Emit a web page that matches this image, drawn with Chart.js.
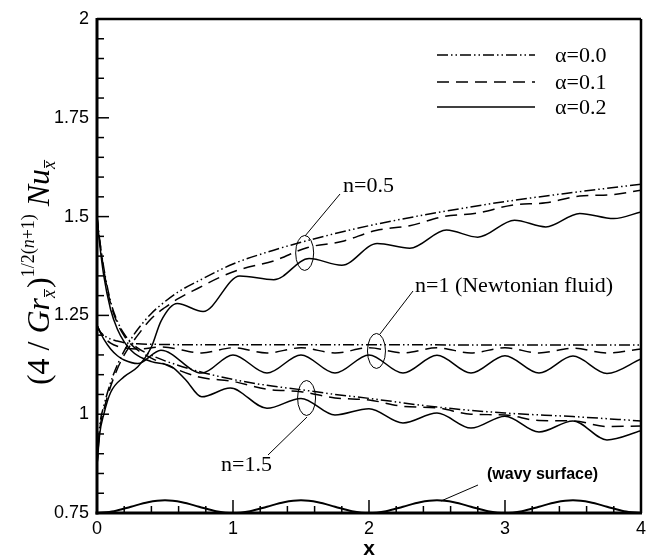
<!DOCTYPE html>
<html>
<head>
<meta charset="utf-8">
<script src="https://cdn.jsdelivr.net/npm/chart.js@4.4.0/dist/chart.umd.min.js"></script>
<style>
  html, body { margin: 0; padding: 0; background: #fff; }
  canvas { display: block; }
</style>
</head>
<body>
<canvas id="nuChart" width="651" height="558"></canvas>
<script>
// local Nusselt number, one x/y pair per curve
// n = 0.5
var n05a0X = [0, 0.02, 0.05, 0.1, 0.15, 0.2, 0.25, 0.3, 0.4, 0.5, 0.6, 0.75, 1, 1.25, 1.5, 1.75, 2, 2.5, 3, 3.5, 4];
var n05a0Y = [0.87, 0.97, 1.02, 1.08, 1.125, 1.16, 1.19, 1.215, 1.255, 1.285, 1.31, 1.338, 1.38, 1.41, 1.435, 1.457, 1.477, 1.51, 1.538, 1.561, 1.582];
var n05a1X = [0, 0.02, 0.05, 0.1, 0.15, 0.2, 0.3, 0.4, 0.5, 0.6, 0.75, 0.9, 1.05, 1.3, 1.55, 1.8, 2.05, 2.3, 2.55, 2.8, 3.05, 3.3, 3.55, 3.8, 4];
var n05a1Y = [0.87, 0.96, 1.01, 1.07, 1.115, 1.15, 1.2, 1.242, 1.27, 1.293, 1.32, 1.346, 1.366, 1.388, 1.422, 1.437, 1.465, 1.477, 1.5, 1.509, 1.529, 1.535, 1.552, 1.556, 1.567];
var n05a2X = [0, 0.02, 0.05, 0.1, 0.2, 0.3, 0.4, 0.47, 0.59, 0.78, 1.05, 1.3, 1.56, 1.8, 2.06, 2.3, 2.57, 2.8, 3.07, 3.3, 3.55, 3.8, 4];
var n05a2Y = [0.87, 0.95, 1.0, 1.055, 1.095, 1.12, 1.17, 1.235, 1.28, 1.26, 1.35, 1.34, 1.394, 1.377, 1.432, 1.42, 1.466, 1.448, 1.491, 1.474, 1.508, 1.495, 1.512];
// n = 1 (Newtonian)
var n1a0X = [0, 0.02, 0.05, 0.1, 0.15, 0.2, 0.3, 0.4, 0.6, 1, 2, 3, 4];
var n1a0Y = [1.225, 1.21, 1.2, 1.19, 1.185, 1.181, 1.178, 1.177, 1.176, 1.176, 1.176, 1.175, 1.175];
var n1a1X = [0, 0.02, 0.05, 0.1, 0.15, 0.2, 0.3, 0.48, 0.77, 1, 1.25, 1.5, 1.75, 2, 2.25, 2.5, 2.75, 3, 3.25, 3.5, 3.75, 4];
var n1a1Y = [1.225, 1.21, 1.195, 1.18, 1.172, 1.168, 1.165, 1.17, 1.155, 1.168, 1.155, 1.168, 1.155, 1.168, 1.155, 1.168, 1.155, 1.168, 1.155, 1.167, 1.155, 1.165];
var n1a2X = [0, 0.02, 0.05, 0.1, 0.15, 0.2, 0.3, 0.47, 0.77, 1, 1.25, 1.5, 1.75, 2, 2.25, 2.5, 2.75, 3, 3.25, 3.5, 3.75, 4];
var n1a2Y = [1.225, 1.21, 1.19, 1.165, 1.148, 1.137, 1.128, 1.162, 1.104, 1.15, 1.104, 1.15, 1.104, 1.15, 1.104, 1.149, 1.104, 1.148, 1.104, 1.147, 1.103, 1.14];
// n = 1.5
var n15a0X = [0, 0.02, 0.05, 0.1, 0.15, 0.2, 0.25, 0.3, 0.4, 0.5, 0.75, 1, 1.25, 1.5, 1.75, 2, 2.5, 3, 3.5, 4];
var n15a0Y = [1.5, 1.44, 1.37, 1.285, 1.235, 1.203, 1.182, 1.167, 1.149, 1.135, 1.108, 1.088, 1.073, 1.062, 1.05, 1.04, 1.018, 1.003, 0.994, 0.983];
var n15a1X = [0, 0.02, 0.05, 0.1, 0.15, 0.2, 0.25, 0.3, 0.4, 0.5, 0.75, 1, 1.25, 1.5, 1.75, 2, 2.25, 2.5, 2.75, 3, 3.25, 3.5, 3.75, 4];
var n15a1Y = [1.5, 1.44, 1.365, 1.28, 1.23, 1.198, 1.177, 1.162, 1.142, 1.126, 1.094, 1.083, 1.063, 1.057, 1.041, 1.036, 1.02, 1.016, 1.0, 0.998, 0.984, 0.983, 0.969, 0.97];
var n15a2X = [0, 0.02, 0.05, 0.1, 0.15, 0.2, 0.25, 0.3, 0.4, 0.55, 0.65, 0.77, 0.98, 1.25, 1.5, 1.75, 2, 2.25, 2.5, 2.75, 3, 3.25, 3.5, 3.75, 4];
var n15a2Y = [1.5, 1.43, 1.35, 1.265, 1.215, 1.183, 1.162, 1.148, 1.133, 1.12, 1.088, 1.044, 1.066, 1.015, 1.04, 0.998, 1.014, 0.978, 1.003, 0.965, 0.995, 0.955, 0.983, 0.935, 0.958];
// the wavy surface sketched along the bottom
var surfX = [0, 0.125, 0.25, 0.375, 0.5, 0.625, 0.75, 0.875, 1, 1.125, 1.25, 1.375, 1.5, 1.625, 1.75, 1.875, 2,
             2.125, 2.25, 2.375, 2.5, 2.625, 2.75, 2.875, 3, 3.125, 3.25, 3.375, 3.5, 3.625, 3.75, 3.875, 4];
var surfY = [0.75, 0.7547, 0.766, 0.7773, 0.782, 0.7773, 0.766, 0.7547, 0.75, 0.7547, 0.766, 0.7773, 0.782, 0.7773, 0.766, 0.7547, 0.75,
             0.7547, 0.766, 0.7773, 0.782, 0.7773, 0.766, 0.7547, 0.75, 0.7547, 0.766, 0.7773, 0.782, 0.7773, 0.766, 0.7547, 0.75];

var xTicks = [0, 1, 2, 3, 4];
var yTicks = [0.75, 1, 1.25, 1.5, 1.75, 2];
var legendLabels = ["\u03b1=0.0", "\u03b1=0.1", "\u03b1=0.2"];

var dashA0 = [11, 3, 1.5, 3, 1.5, 3];
var dashA1 = [12, 7];
var dashA2 = [];
var legendDashes = [dashA0, dashA1, dashA2];

var SERIF = "'Liberation Serif', 'Times New Roman', serif";
var SANS = "'Liberation Sans', Arial, sans-serif";

function pts(xs, ys) {
   var out = [];
   for (var i = 0; i < xs.length; i++) {
      out.push({ x: xs[i], y: ys[i] });
   }
   return out;
}

function series(xs, ys, dash, width) {
   return {
      data: pts(xs, ys),
      borderColor: "#000",
      borderWidth: width || 1.5,
      borderDash: dash,
      pointRadius: 0,
      cubicInterpolationMode: "monotone",
      fill: false,
   };
}

function line(ctx, x1, y1, x2, y2) {
   ctx.beginPath();
   ctx.moveTo(x1, y1);
   ctx.lineTo(x2, y2);
   ctx.stroke();
}

// frame, inward ticks, legend, labels and the rotated y title
var decorations = {
   id: "decorations",
   afterDraw: function (chart) {
      var ctx = chart.ctx;
      var a = chart.chartArea;
      var xs = chart.scales.x;
      var ys = chart.scales.y;
      ctx.save();
      ctx.strokeStyle = "#000";
      ctx.fillStyle = "#000";
      ctx.setLineDash([]);

      // ticks
      ctx.lineWidth = 1.5;
      for (var i = 0; i <= 25; i++) {
         var py = ys.getPixelForValue(0.75 + i * 0.05);
         line(ctx, a.left, py, a.left + (i % 5 === 0 ? 12 : 7), py);
      }
      for (var j = 0; j <= 20; j++) {
         var px = xs.getPixelForValue(j * 0.2);
         line(ctx, px, a.bottom, px, a.bottom - (j % 5 === 0 ? 13 : 7));
      }

      // frame
      ctx.lineWidth = 2.5;
      line(ctx, a.left, a.top, a.right, a.top);
      line(ctx, a.right, a.top, a.right, a.bottom);
      ctx.lineWidth = 3;
      line(ctx, a.left, a.top - 1, a.left, a.bottom + 1.5);
      line(ctx, a.left - 1.5, a.bottom, a.right + 1, a.bottom);

      // legend
      ctx.font = "22px " + SERIF;
      ctx.textBaseline = "middle";
      ctx.textAlign = "left";
      var rows = [55, 82, 107];
      for (var k = 0; k < legendLabels.length; k++) {
         ctx.lineWidth = 1.5;
         ctx.setLineDash(legendDashes[k]);
         line(ctx, 437, rows[k], 535, rows[k]);
         ctx.setLineDash([]);
         ctx.fillText(legendLabels[k], 555, rows[k] + 1);
      }

      // curve family markers
      ctx.lineWidth = 1;
      var marks = [
         { x: 1.527, y: 1.408, tx: 343, ty: 186, text: "n=0.5", lx1: 305, ly1: 236, lx2: 340, ly2: 194 },
         { x: 2.055, y: 1.16, tx: 415, ty: 286, text: "n=1 (Newtonian fluid)", lx1: 380, ly1: 334, lx2: 413, ly2: 291 },
         { x: 1.541, y: 1.041, tx: 221, ty: 465, text: "n=1.5", lx1: 307, ly1: 417, lx2: 268, ly2: 455 },
      ];
      marks.forEach(function (m) {
         var cx = xs.getPixelForValue(m.x);
         var cy = ys.getPixelForValue(m.y);
         ctx.beginPath();
         ctx.ellipse(cx, cy, 9, 17.5, 0, 0, Math.PI * 2);
         ctx.stroke();
         line(ctx, m.lx1, m.ly1, m.lx2, m.ly2);
         ctx.fillText(m.text, m.tx, m.ty);
      });

      // wavy surface label
      line(ctx, 441, 501, 478, 485);
      ctx.font = "bold 16px " + SANS;
      ctx.fillText("(wavy surface)", 487, 475);

      // y axis title: (4 / Gr_x)^(1/2(n+1)) Nu_x
      var big = 32, small = 18;
      var parts = [
         { t: "(4 / ", f: big + "px " + SERIF, dy: 0 },
         { t: "Gr", f: "italic " + big + "px " + SERIF, dy: 0 },
         { t: "x", f: "italic " + small + "px " + SERIF, dy: 6, bar: true },
         { t: ")", f: big + "px " + SERIF, dy: 0 },
         { t: "1/2(", f: small + "px " + SERIF, dy: -15 },
         { t: "n", f: "italic " + small + "px " + SERIF, dy: -15 },
         { t: "+1)", f: small + "px " + SERIF, dy: -15 },
         { t: " Nu", f: "italic " + big + "px " + SERIF, dy: 0 },
         { t: "x", f: "italic " + small + "px " + SERIF, dy: 6, bar: true },
      ];
      var total = 0;
      parts.forEach(function (p) {
         ctx.font = p.f;
         p.w = ctx.measureText(p.t).width + (p.bar ? 2 : 0);
         total += p.w;
      });
      ctx.translate(49, 272);
      ctx.rotate(-Math.PI / 2);
      ctx.textBaseline = "alphabetic";
      var u = -total / 2;
      parts.forEach(function (p) {
         ctx.font = p.f;
         ctx.fillText(p.t, u, p.dy);
         if (p.bar) {
            ctx.lineWidth = 1;
            line(ctx, u + 1, p.dy - 10.5, u + p.w - 1, p.dy - 10.5);
         }
         u += p.w;
      });
      ctx.restore();
   },
};

var ctx = document.getElementById("nuChart").getContext("2d");
var chart = new Chart(ctx, {
   type: "line",
   data: {
      datasets: [
         series(n05a0X, n05a0Y, dashA0),
         series(n05a1X, n05a1Y, dashA1),
         series(n05a2X, n05a2Y, dashA2),
         series(n1a0X, n1a0Y, dashA0),
         series(n1a1X, n1a1Y, dashA1),
         series(n1a2X, n1a2Y, dashA2),
         series(n15a0X, n15a0Y, dashA0),
         series(n15a1X, n15a1Y, dashA1),
         series(n15a2X, n15a2Y, dashA2),
         series(surfX, surfY, [], 2),
      ],
   },
   options: {
      responsive: false,
      animation: false,
      devicePixelRatio: 1,
      layout: { padding: { left: 0, right: 9, top: 19, bottom: 0 } },
      plugins: { legend: { display: false }, tooltip: { enabled: false } },
      scales: {
         x: {
            type: "linear",
            min: 0,
            max: 4,
            afterFit: function (s) { s.height = 45; },
            afterBuildTicks: function (s) { s.ticks = xTicks.map(function (v) { return { value: v }; }); },
            ticks: {
               color: "#000",
               padding: 5,
               maxRotation: 0,
               font: { family: SANS, size: 18 },
               callback: function (v) { return String(v); },
            },
            grid: { display: false, drawTicks: false },
            border: { display: false },
            title: {
               display: true,
               text: "x",
               color: "#000",
               font: { family: SANS, size: 21, weight: "bold", lineHeight: 1 },
               padding: { top: 0, bottom: -2 },
            },
         },
         y: {
            type: "linear",
            min: 0.75,
            max: 2,
            afterFit: function (s) { s.width = 97; },
            afterBuildTicks: function (s) { s.ticks = yTicks.map(function (v) { return { value: v }; }); },
            ticks: {
               color: "#000",
               padding: 8,
               font: { family: SANS, size: 18 },
               callback: function (v) { return String(v); },
            },
            grid: { display: false, drawTicks: false },
            border: { display: false },
         },
      },
   },
   plugins: [decorations],
});
</script>
</body>
</html>
